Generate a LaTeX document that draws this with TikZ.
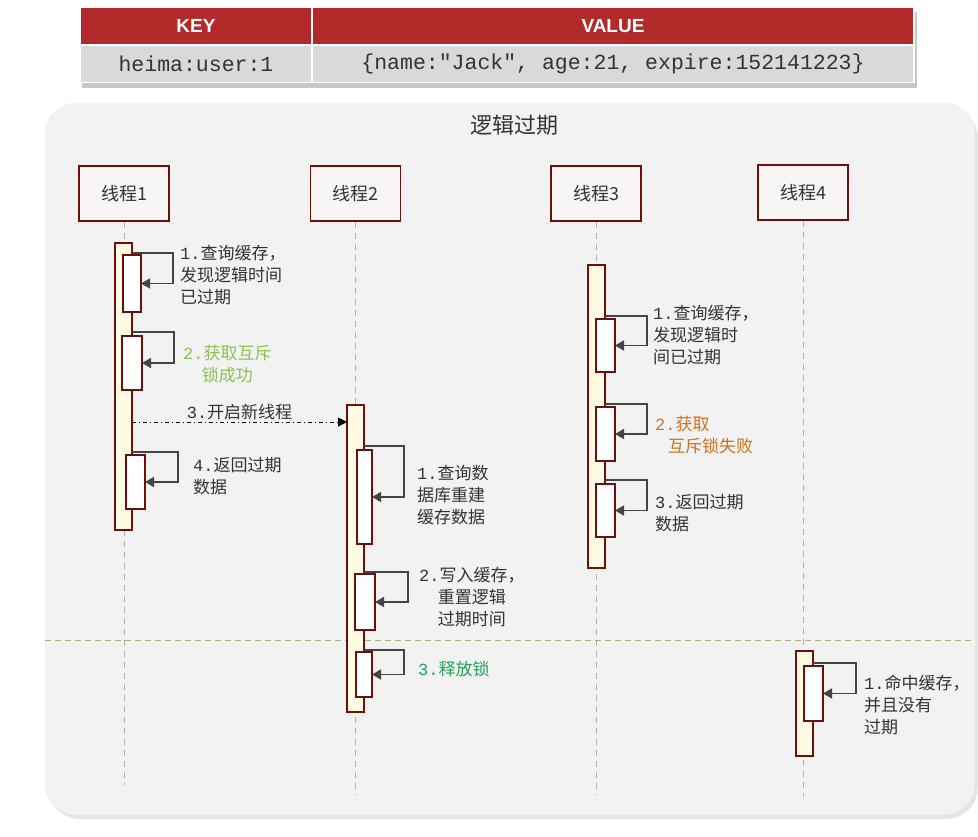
\documentclass[tikz,border=0pt]{standalone}
\usepackage{fontspec}
\setmainfont{Noto Sans CJK SC}
\newfontfamily\monof{Liberation Mono}
\newfontfamily\hdrf{Liberation Sans}
\newcommand\dg[1]{{\monof #1}}
\usetikzlibrary{arrows.meta}
\definecolor{hdrred}{HTML}{B22A2A}
\definecolor{rowgray}{HTML}{D9D9D9}
\definecolor{panelbg}{HTML}{F2F2F2}
\definecolor{maroon}{HTML}{6E0F0F}
\definecolor{barfill}{HTML}{FFFBE3}
\definecolor{thrfill}{HTML}{F8F5F5}
\definecolor{txt}{HTML}{333333}
\definecolor{loopc}{HTML}{444444}
\definecolor{lgreen}{HTML}{8CC152}
\definecolor{dgreen}{HTML}{1FA35A}
\definecolor{orng}{HTML}{D2701E}
\definecolor{sepc}{HTML}{AFAF80}
\definecolor{lifec}{HTML}{B0B0B0}
\begin{document}
\begin{tikzpicture}[x=1pt,y=-1pt,
  hdr/.style={rectangle,fill=hdrred,draw=white,line width=1.5pt,inner sep=0,outer sep=0,text=white,font=\hdrf\bfseries\fontsize{19}{22}\selectfont},
  row/.style={rectangle,fill=rowgray,draw=white,line width=1.5pt,inner sep=0,outer sep=0,text=txt,font=\monof\fontsize{21.5}{24}\selectfont},
  thr/.style={rectangle,fill=thrfill,draw=maroon,line width=1.6pt,minimum width=90,minimum height=55,inner sep=0,text=txt,font=\fontsize{18}{22}\selectfont},
  bar/.style={rectangle,fill=barfill,draw=maroon,line width=1.4pt,minimum width=17,inner sep=0,outer sep=0},
  act/.style={rectangle,fill=white,draw=maroon,line width=1.4pt,inner sep=0,outer sep=0},
  life/.style={draw=lifec,line width=1pt,dash pattern=on 6pt off 5pt},
  selfloop/.style={draw=loopc,line width=1.6pt,-{Triangle[length=9pt,width=10pt]}},
  msg/.style={draw=black,line width=1pt,dash pattern=on 4pt off 3pt on 1pt off 3pt,-{Triangle[length=9pt,width=9pt]}},
  sep/.style={draw=sepc,line width=1pt,dash pattern=on 6pt off 4pt},
  lbl/.style={anchor=north west,inner sep=0,align=left,text=txt,font=\fontsize{17}{22}\selectfont},
  clbl/.style={lbl,align=center}]
\useasboundingbox (0,0) rectangle (978,836);
\fill[white] (0,0) rectangle (978,836);

% table
\fill[black!22] (82,12) rectangle (917,88);
\node[hdr,minimum width=232,minimum height=37] (hk) at (196,26) {KEY};
\node[hdr,minimum width=602,minimum height=37] (hv) at (613,26) {VALUE};
\node[row,minimum width=232,minimum height=37] (rk) at (196,64) {heima:user:1};
\node[row,minimum width=602,minimum height=37] (rv) at (613,64) {\{name:"Jack", age:21, expire:152141223\}};

% panel
\fill[black!10,rounded corners=32pt] (48,107) rectangle (978,819);
\draw[fill=panelbg,draw=black!8,rounded corners=32pt] (45,103) rectangle (975,815);
\node[text=txt,font=\fontsize{22}{26}\selectfont] (title) at (514,125) {逻辑过期};

% threads
\node[thr] (t1) at (124,193.5) {线程1};
\node[thr] (t2) at (355.5,193.5) {线程2};
\node[thr] (t3) at (596,193.5) {线程3};
\node[thr] (t4) at (803,192.5) {线程4};

\draw[life] (t1.south) -- (t1.south |- 0,785);
\draw[life] (t2.south) -- (t2.south |- 0,795);
\draw[life] (t3.south) -- (t3.south |- 0,795);
\draw[life] (t4.south) -- (t4.south |- 0,797);

\draw[sep] (45,640) -- (975,640);

% bars
\node[bar,minimum height=287] (bar1) at (123.5,386.5) {};
\node[bar,minimum height=307] (bar2) at (355.5,558.5) {};
\node[bar,minimum height=303] (bar3) at (596.5,416.5) {};
\node[bar,minimum height=105] (bar4) at (804.5,703.5) {};

% activation boxes
\node[act,minimum width=18,minimum height=57] (b11) at (132,283.5) {};
\node[act,minimum width=20,minimum height=54] (b12) at (132,363) {};
\node[act,minimum width=19,minimum height=54] (b14) at (135.5,482) {};
\node[act,minimum width=15,minimum height=94] (b21) at (364.5,497) {};
\node[act,minimum width=20,minimum height=56] (b22) at (365,602) {};
\node[act,minimum width=16,minimum height=45] (b23) at (364,674.5) {};
\node[act,minimum width=19,minimum height=53] (b31) at (605.5,345.5) {};
\node[act,minimum width=19,minimum height=54] (b32) at (605.5,434) {};
\node[act,minimum width=19,minimum height=53] (b33) at (605.5,510.5) {};
\node[act,minimum width=19,minimum height=55] (b41) at (813.5,693.5) {};

% self loops
\draw[selfloop] (bar1.east |- 0,253) -- (173,253) |- (b11.east);
\draw[selfloop] (bar1.east |- 0,332) -- (174,332) |- (b12.east);
\draw[selfloop] (bar1.east |- 0,452) -- (178,452) |- (b14.east);
\draw[selfloop] (bar2.east |- 0,446) -- (404,446) |- (b21.east);
\draw[selfloop] (bar2.east |- 0,572) -- (408,572) |- (b22.east);
\draw[selfloop] (bar2.east |- 0,650) -- (404,650) |- (b23.east);
\draw[selfloop] (bar3.east |- 0,316) -- (647,316) |- (b31.east);
\draw[selfloop] (bar3.east |- 0,404) -- (647,404) |- (b32.east);
\draw[selfloop] (bar3.east |- 0,480) -- (647,480) |- (b33.east);
\draw[selfloop] (bar4.east |- 0,663) -- (856,663) |- (b41.east);

% message
\draw[msg] (bar1.east |- 0,422) -- node[above=2pt,inner sep=0,text=txt,font=\fontsize{17}{22}\selectfont] (m1) {\dg{3.}开启新线程} (bar2.west |- 0,422);

% labels
\node[lbl] (l11) at (180,245) {\dg{1.}查询缓存，\\发现逻辑时间\\已过期};
\node[clbl,text=lgreen] (l12) at (183,345) {\dg{2.}获取互斥\\锁成功};
\node[lbl] (l14) at (193,457) {\dg{4.}返回过期\\数据};
\node[lbl] (l21) at (417,465) {\dg{1.}查询数\\据库重建\\缓存数据};
\node[clbl] (l22) at (419,567) {\dg{2.}写入缓存，\\重置逻辑\\过期时间};
\node[lbl,text=dgreen] (l23) at (418,661) {\dg{3.}释放锁};
\node[lbl] (l31) at (653,305) {\dg{1.}查询缓存，\\发现逻辑时\\间已过期};
\node[lbl,text=orng] (l32) at (655,416) {\dg{2.}获取\\\hspace*{13pt}互斥锁失败};
\node[lbl] (l33) at (655,494) {\dg{3.}返回过期\\数据};
\node[lbl] (l41) at (864,675) {\dg{1.}命中缓存，\\并且没有\\过期};
\end{tikzpicture}
\end{document}
